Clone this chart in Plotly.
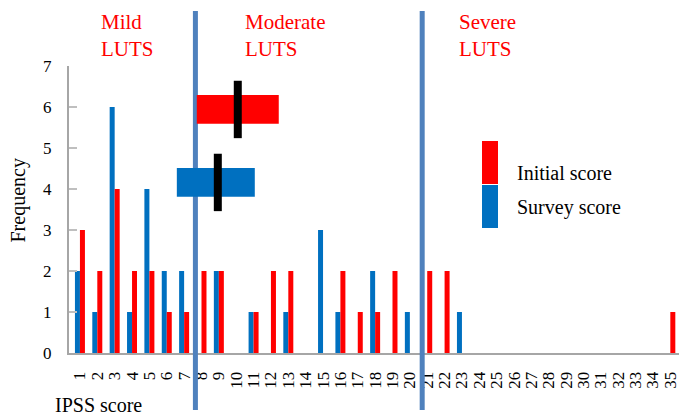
import plotly.graph_objects as go

# ---- data ----
scores = list(range(1, 36))
tick_labels = [str(s) for s in scores]
survey = [2, 1, 6, 1, 4, 2, 2, 0, 2, 0, 1, 0, 1, 0, 3, 1, 0, 2, 0, 1,
          0, 0, 1, 0, 0, 0, 0, 0, 0, 0, 0, 0, 0, 0, 0]
initial = [3, 2, 4, 2, 2, 1, 1, 2, 2, 0, 1, 2, 2, 0, 0, 2, 1, 1, 2, 0,
           2, 2, 0, 0, 0, 0, 0, 0, 0, 0, 0, 0, 0, 0, 1]

# summary bars (mean and spread) for the two scores
summary_names = ["Initial score", "Survey score"]
summary_mean = [10.09, 8.94]
summary_lo = [7.73, 6.58]
summary_hi = [12.45, 11.07]
summary_y = [5.94, 4.16]          # vertical centre of each box (frequency units)
summary_box_half = [0.35, 0.35]
summary_tick_half = [0.70, 0.70]
summary_colors = ["#FF0000", "#0070C0"]

boundaries = [7.65, 20.71]
zone_labels = ["Mild<br>LUTS", "Moderate<br>LUTS", "Severe<br>LUTS"]
zone_label_x = [2.1, 10.4, 22.7]

FONT = "Liberation Serif"
RED = "#FF0000"
BLUE = "#0070C0"
LINE = "#4F81BD"
AXIS = "#A6A6A6"

fig = go.Figure()
fig.add_trace(go.Bar(x=scores, y=survey, name="Survey score",
                     marker=dict(color=BLUE, line=dict(width=0))))
fig.add_trace(go.Bar(x=scores, y=initial, name="Initial score",
                     marker=dict(color=RED, line=dict(width=0))))

shapes = []
for b in boundaries:
    shapes.append(dict(type="line", xref="x", yref="paper", x0=b, x1=b,
                       y0=-0.1986, y1=1.1916, line=dict(color=LINE, width=5),
                       layer="above"))
for i in range(len(summary_names)):
    shapes.append(dict(type="rect", xref="x", yref="y",
                       x0=summary_lo[i], x1=summary_hi[i],
                       y0=summary_y[i] - summary_box_half[i],
                       y1=summary_y[i] + summary_box_half[i],
                       fillcolor=summary_colors[i], line=dict(width=0),
                       layer="above"))
    shapes.append(dict(type="line", xref="x", yref="y",
                       x0=summary_mean[i], x1=summary_mean[i],
                       y0=summary_y[i] - summary_tick_half[i],
                       y1=summary_y[i] + summary_tick_half[i],
                       line=dict(color="black", width=8), layer="above"))

# custom legend
leg_x0, leg_x1 = 0.677, 0.7033
shapes.append(dict(type="rect", xref="paper", yref="paper", x0=leg_x0, x1=leg_x1,
                   y0=0.5889, y1=0.7387, fillcolor=RED, line=dict(width=0)))
shapes.append(dict(type="rect", xref="paper", yref="paper", x0=leg_x0, x1=leg_x1,
                   y0=0.4355, y1=0.5854, fillcolor=BLUE, line=dict(width=0)))

annotations = []
for lab, lx in zip(zone_labels, zone_label_x):
    annotations.append(dict(text=lab, x=lx, y=1.108, xref="x", yref="paper",
                            xanchor="left", yanchor="middle", align="left",
                            showarrow=False, font=dict(family=FONT, size=21, color=RED)))
annotations.append(dict(text="Initial score", x=0.731, y=0.627, xref="paper", yref="paper",
                        xanchor="left", yanchor="middle", showarrow=False,
                        font=dict(family=FONT, size=20, color="black")))
annotations.append(dict(text="Survey score", x=0.731, y=0.5087, xref="paper", yref="paper",
                        xanchor="left", yanchor="middle", showarrow=False,
                        font=dict(family=FONT, size=20, color="black")))
annotations.append(dict(text="Frequency", x=-0.0828, y=0.533, xref="paper", yref="paper",
                        xanchor="center", yanchor="middle", textangle=-90, showarrow=False,
                        font=dict(family=FONT, size=20, color="black")))
annotations.append(dict(text="IPSS score", x=-0.026, y=-0.181, xref="paper", yref="paper",
                        xanchor="left", yanchor="middle", showarrow=False,
                        font=dict(family=FONT, size=20, color="black")))

fig.update_layout(
    width=679, height=416,
    margin=dict(l=69, r=0, t=66, b=63, autoexpand=False),
    paper_bgcolor="white", plot_bgcolor="white",
    barmode="group", bargap=0.424, bargroupgap=0,
    showlegend=False,
    shapes=shapes, annotations=annotations,
    font=dict(family=FONT, color="black"),
    xaxis=dict(range=[0.37, 35.5], tickmode="array", tickvals=scores,
               ticktext=tick_labels, tickangle=-90, showgrid=False, zeroline=False,
               showline=True, linecolor=AXIS, linewidth=2, ticks="",
               tickfont=dict(family=FONT, size=17, color="black"),
               ticklabelstandoff=10, automargin=False, ticklabeloverflow="allow"),
    yaxis=dict(range=[0, 7], dtick=1, showgrid=False, zeroline=False,
               showline=True, linecolor=AXIS, linewidth=2,
               ticks="inside", ticklen=8, tickwidth=2, tickcolor="#BFBFBF",
               tickfont=dict(family=FONT, size=17, color="black"),
               ticklabelstandoff=12, automargin=False),
)

fig.write_html("out.html", config={"displayModeBar": False},
               post_script="document.body.style.margin='0';document.body.style.padding='0';"
                           "document.documentElement.style.overflow='hidden';")
